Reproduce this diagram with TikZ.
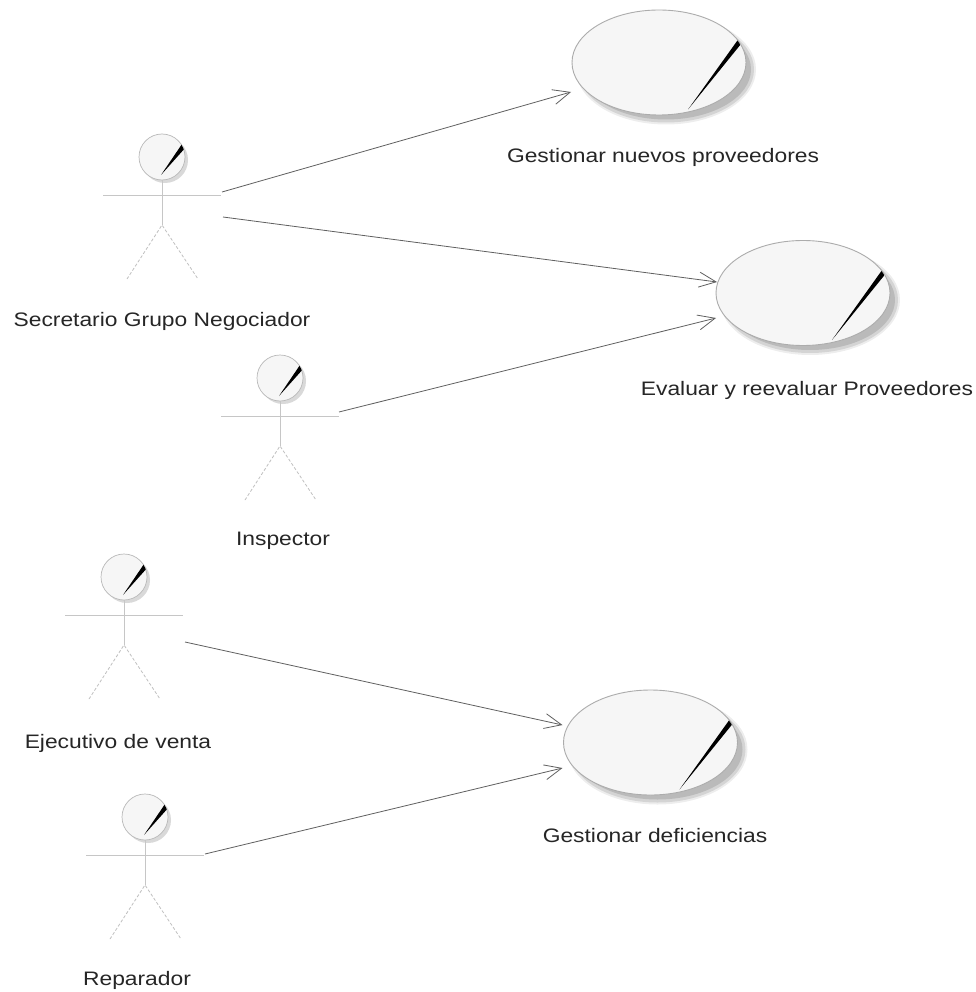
\documentclass[tikz,border=0pt]{standalone}
\usepackage{fontspec}
\setmainfont{Liberation Sans}[FakeStretch=1.17]
\usetikzlibrary{shapes.geometric,arrows.meta,calc}

\tikzset{
  % use-case ellipse outline
  ucshape/.style={ellipse, draw=gray!65, line width=0.9pt, fill=gray!7,
    minimum width=174pt, minimum height=105pt, inner sep=0pt, outer sep=0pt},
  % captions under actors and use cases
  uctext/.style={font=\fontsize{19.5}{23}\selectfont, text=black!85, inner sep=0pt, anchor=base},
  % association lines with open arrow heads
  assoc/.style={draw=gray!75!black, line width=0.8pt,
    -{Straight Barb[length=17pt,width=15pt,line width=0.8pt]}},
  limb/.style={draw=gray!45, line width=0.8pt},
  leg/.style={draw=gray!50, line width=0.8pt, dash pattern=on 3pt off 2pt},
  % stick figure with a shaded head
  actor/.pic={
    \fill[gray!30] (3,3) circle (23pt);
    \draw[gray!55, line width=0.7pt, fill=gray!7] (0,0) circle (23pt);
    \begin{scope}
      \clip (0,0) circle (23pt);
      \fill[black] (-1,18) -- (20,-13) -- (24,-10) -- cycle;
    \end{scope}
    \draw[limb] (0,23) -- (0,68);
    \draw[limb] (-59,38) -- (59,38);
    \draw[leg] (-35,122) -- (0,68) -- (36,122);
    \coordinate (-hand) at (59,38);
  },
  % use case: soft shadow, ellipse and highlight stroke
  usecase/.pic={
    \fill[black, opacity=0.07] (7,7) ellipse [x radius=90pt, y radius=55pt];
    \fill[black, opacity=0.10] (7,7) ellipse [x radius=88pt, y radius=53pt];
    \fill[black, opacity=0.12] (7,7) ellipse [x radius=85pt, y radius=50pt];
    \node[ucshape] (-box) at (0,0) {};
    \begin{scope}
      \clip (0,0) ellipse [x radius=86.5pt, y radius=52pt];
      \fill[black] (29,47) -- (81.5,-26.3) -- (85.7,-23.1) -- cycle;
    \end{scope}
  }
}

\begin{document}
\begin{tikzpicture}[x=1pt, y=-1pt]
  \fill[white] (0,0) rectangle (975,992);
  \useasboundingbox (0,0) rectangle (975,992);

  % use cases
  \pic (gnp) at (659,62.5) {usecase};
  \pic (erp) at (803,293) {usecase};
  \pic (gdf) at (650.5,742.5) {usecase};
  \node[uctext] (gnp-t) at (663,163) {Gestionar nuevos proveedores};
  \node[uctext] (erp-t) at (807,395) {Evaluar y reevaluar Proveedores};
  \node[uctext] (gdf-t) at (655,842) {Gestionar deficiencias};

  % actors
  \pic (sec) at (162,157) {actor};
  \pic (ins) at (280,378) {actor};
  \pic (eje) at (124,577) {actor};
  \pic (rep) at (145,817) {actor};
  \node[uctext] (sec-t) at (162,326) {Secretario Grupo Negociador};
  \node[uctext] (ins-t) at (283,545) {Inspector};
  \node[uctext] (eje-t) at (118,748) {Ejecutivo de venta};
  \node[uctext] (rep-t) at (137,985) {Reparador};

  % associations
  \draw[assoc] ($(sec-hand)+(1,-3)$) -- ($(gnp-box.west)+(-1,29.5)$);
  \draw[assoc] ($(sec-hand)+(2,22)$) -- ($(erp-box.west)+(1,-11)$);
  \draw[assoc] ($(ins-hand)+(0,-4)$) -- ($(erp-box.west)+(0,25)$);
  \draw[assoc] ($(eje-hand)+(2,27)$) -- ($(gdf-box.west)+(-1,-17.5)$);
  \draw[assoc] ($(rep-hand)+(1,-1)$) -- ($(gdf-box.west)+(-1,25.5)$);
\end{tikzpicture}
\end{document}
